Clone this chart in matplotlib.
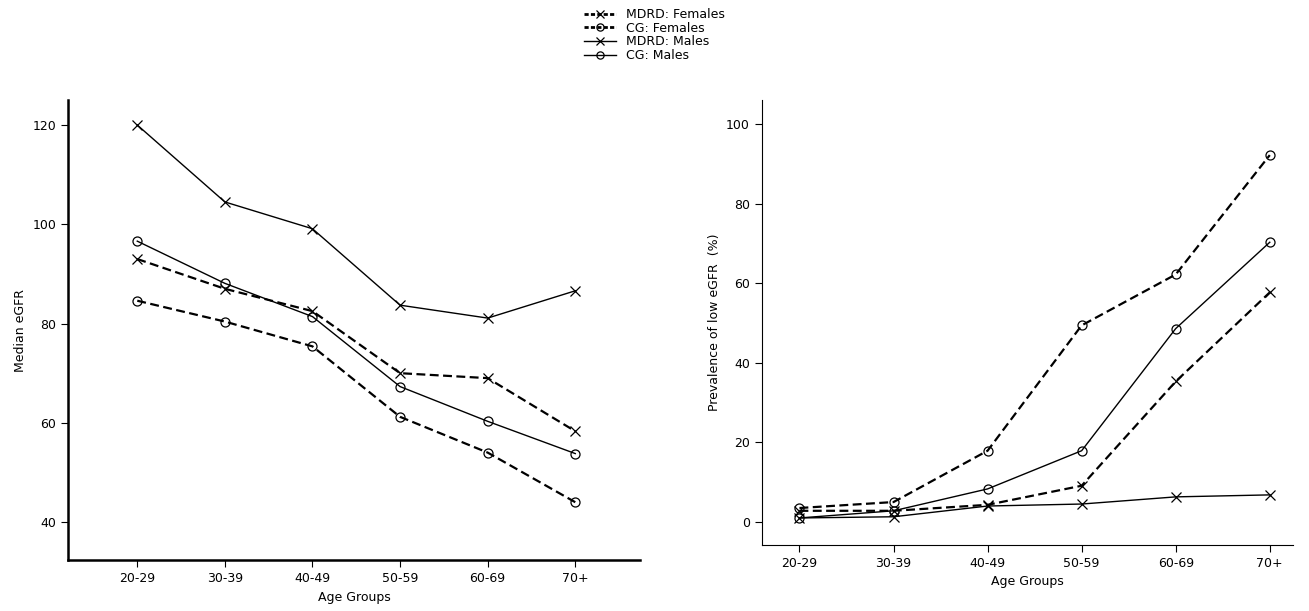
import matplotlib.pyplot as plt
from matplotlib.lines import Line2D

ages = ["20-29", "30-39", "40-49", "50-59", "60-69", "70+"]

# median eGFR
mdrd_m = [120, 104.5, 99.1, 83.7, 81.1, 86.6]
mdrd_f = [93.0, 87.0, 82.5, 70.0, 69.0, 58.3]
cg_m = [96.6, 88.1, 81.4, 67.3, 60.3, 53.8]
cg_f = [84.6, 80.4, 75.4, 61.2, 54.0, 44.0]

# prevalence of low eGFR (%)
p_mdrd_m = [1.0, 1.3, 4.0, 4.5, 6.3, 6.8]
p_mdrd_f = [2.8, 2.8, 4.3, 9.1, 35.3, 57.7]
p_cg_m = [1.0, 2.8, 8.3, 17.9, 48.6, 70.3]
p_cg_f = [3.5, 5.0, 17.9, 49.4, 62.2, 92.2]

plt.rcParams['font.family'] = ['DejaVu Sans']
plt.rcParams['font.size'] = 9

fig = plt.figure(figsize=(13.09, 6.11), dpi=100)
ax1 = fig.add_axes([0.052, 0.083, 0.437, 0.753])
ax2 = fig.add_axes([0.582, 0.108, 0.406, 0.728])

dash = (0, (4, 2))
mk = dict(color='black', markersize=6.5, markerfacecolor='none', markeredgewidth=0.9)


def draw(ax, a, b, c, d):
    x = range(len(ages))
    ax.plot(x, a, marker='x', lw=1, ls='-', **mk)
    ax.plot(x, b, marker='x', lw=1.6, ls=dash, **mk)
    ax.plot(x, c, marker='o', lw=1, ls='-', **mk)
    ax.plot(x, d, marker='o', lw=1.6, ls=dash, **mk)
    ax.set_xticks(list(x))
    ax.set_xticklabels(ages)
    ax.spines['top'].set_visible(False)
    ax.spines['right'].set_visible(False)
    ax.set_xlabel("Age Groups")
    ax.tick_params(direction='out', length=5)


draw(ax1, mdrd_m, mdrd_f, cg_m, cg_f)
ax1.set_xlim(-0.79, 5.74)
ax1.set_ylim(32.3, 125)
ax1.set_yticks([40, 60, 80, 100, 120])
ax1.set_ylabel("Median eGFR")
ax1.spines['left'].set_linewidth(1.8)
ax1.spines['bottom'].set_linewidth(1.8)

draw(ax2, p_mdrd_m, p_mdrd_f, p_cg_m, p_cg_f)
ax2.set_xlim(-0.4, 5.25)
ax2.set_ylim(-5.8, 106)
ax2.set_yticks([0, 20, 40, 60, 80, 100])
ax2.set_ylabel("Prevalence of low eGFR  (%)")

handles = [
    Line2D([], [], marker='x', ls=(0, (1.5, 0.8)), lw=2, **mk),
    Line2D([], [], marker='o', ls=(0, (1.5, 0.8)), lw=2, **mk),
    Line2D([], [], marker='x', ls='-', lw=1, **mk),
    Line2D([], [], marker='o', ls='-', lw=1, **mk),
]
fig.legend(handles, ["MDRD: Females", "CG: Females", "MDRD: Males", "CG: Males"],
           loc='upper center', bbox_to_anchor=(0.5, 1.005), frameon=False,
           handlelength=2.5, labelspacing=0.05, fontsize=9, markerscale=0.8)

fig.savefig("out.png", dpi=100)
